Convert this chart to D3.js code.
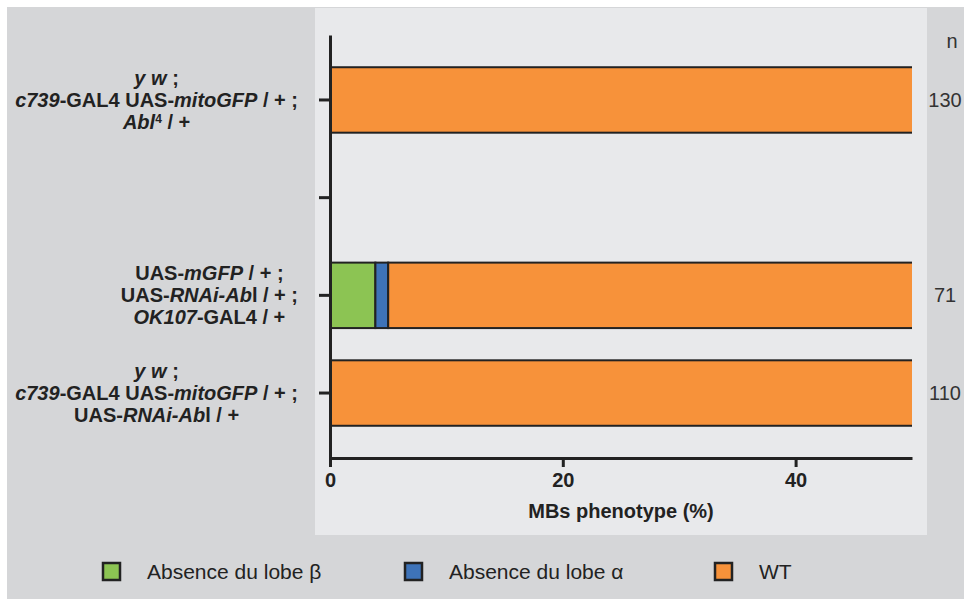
<!DOCTYPE html>
<html>
<head>
<meta charset="utf-8">
<script src="https://cdn.jsdelivr.net/npm/d3@7"></script>
<style>
  html, body { margin: 0; padding: 0; background: #ffffff; }
  svg { display: block; }
  text { font-family: "Liberation Sans", Arial, Helvetica, sans-serif; }
</style>
</head>
<body>
<svg id="chart" width="964" height="599"></svg>
<script>
// ---------- data ----------
const categories = ["abl4", "blank", "ok107", "c739rnai"];
// label lines: each segment [text, style] where style: "b" bold upright, "i" bold italic, "s" superscript
const labelLines = [
  [ [["y w", "i"], [" ;", "b"]],
    [["c739", "i"], ["-GAL4 UAS-", "b"], ["mitoGFP", "i"], [" / + ;", "b"]],
    [["Abl", "i"], ["4", "s"], [" / +", "b"]] ],
  [],
  [ [["UAS-", "b"], ["mGFP", "i"], [" / + ;", "b"]],
    [["UAS-", "b"], ["RNAi-Ab", "i"], ["l / + ;", "b"]],
    [["OK107", "i"], ["-GAL4 / +", "b"]] ],
  [ [["y w", "i"], [" ;", "b"]],
    [["c739", "i"], ["-GAL4 UAS-", "b"], ["mitoGFP", "i"], [" / + ;", "b"]],
    [["UAS-", "b"], ["RNAi-Ab", "i"], ["l / +", "b"]] ]
];
const seriesNames = ["Absence du lobe β", "Absence du lobe α", "WT"];
const seriesKeys = ["beta", "alpha", "wt"];
const absenceBeta  = [0, null, 3.9, 0];
const absenceAlpha = [0, null, 1.1, 0];
const wildType     = [100, null, 95, 100];
const nValues = ["130", "", "71", "110"];
const xTicks = [0, 20, 40];
const xDomain = [0, 50];
const xTitle = "MBs phenotype (%)";
const colors = ["#8cc453", "#3e73b8", "#f7923a"];

// ---------- build ----------
const svg = d3.select("#chart");

svg.append("rect").attr("x", 7).attr("y", 7).attr("width", 957).attr("height", 592).attr("fill", "#d5d6d8");
svg.append("rect").attr("x", 315).attr("y", 8).attr("width", 612).attr("height", 527).attr("fill", "#e8e9eb");

const x = d3.scaleLinear().domain(xDomain).range([330, 912]);
const y = d3.scaleBand().domain(categories).range([35, 458]).paddingInner(0.33).paddingOuter(0.33);

const rows = categories.map((c, i) => ({
  cat: c,
  beta: absenceBeta[i] ?? 0,
  alpha: absenceAlpha[i] ?? 0,
  wt: wildType[i] ?? 0,
  has: wildType[i] !== null
}));
const stack = d3.stack().keys(seriesKeys)(rows.filter(r => r.has));

svg.append("defs").append("clipPath").attr("id", "plotclip")
  .append("rect").attr("x", x(xDomain[0])).attr("y", 0).attr("width", x(xDomain[1]) - x(xDomain[0])).attr("height", 599);

const barsG = svg.append("g").attr("clip-path", "url(#plotclip)");
stack.forEach((layer, li) => {
  barsG.selectAll(null)
    .data(layer.filter(d => d[1] - d[0] > 0))
    .join("rect")
    .attr("x", d => x(d[0]))
    .attr("y", d => y(d.data.cat))
    .attr("width", d => x(d[1]) - x(d[0]))
    .attr("height", y.bandwidth())
    .attr("fill", colors[li])
    .attr("stroke", "#222")
    .attr("stroke-width", 2);
});

// axes
const yAxis = svg.append("g").attr("transform", "translate(330,0)")
  .call(d3.axisLeft(y).tickSize(11).tickSizeOuter(0).tickFormat(""));
const xAxis = svg.append("g").attr("transform", "translate(0,458)")
  .call(d3.axisBottom(x).tickValues(xTicks).tickSize(9).tickSizeOuter(0).tickPadding(6));
[yAxis, xAxis].forEach(g => {
  g.select(".domain").attr("stroke", "#222").attr("stroke-width", 3);
  g.selectAll(".tick line").attr("stroke", "#222").attr("stroke-width", 3);
});
xAxis.selectAll(".tick text").attr("font-size", 20).attr("font-weight", "bold").attr("fill", "#222")
  .attr("font-family", "'Liberation Sans', Arial, sans-serif");

svg.append("text").attr("x", (x(xDomain[0]) + x(xDomain[1])) / 2).attr("y", 518)
  .attr("text-anchor", "middle").attr("font-size", 20).attr("font-weight", "bold").attr("fill", "#222")
  .text(xTitle);

// category labels (multi-line, centred lines, block right-aligned)
const labelRight = 298, lineGap = 22;
categories.forEach((c, i) => {
  const lines = labelLines[i];
  if (!lines.length) return;
  const cy = y(c) + y.bandwidth() / 2;
  const g = svg.append("g");
  const texts = lines.map((segs, li) => {
    const t = g.append("text")
      .attr("y", cy + 7 + (li - (lines.length - 1) / 2) * lineGap)
      .attr("text-anchor", "middle")
      .attr("font-size", 20).attr("font-weight", "bold").attr("fill", "#222");
    segs.forEach(([s, st], k) => {
      const ts = t.append("tspan").text(s);
      if (st === "i") ts.attr("font-style", "italic");
      if (st === "s") ts.attr("font-size", 12).attr("dy", -6);
      if (k > 0 && segs[k - 1][1] === "s") ts.attr("dy", 6);
    });
    return t;
  });
  const maxW = d3.max(texts, t => t.node().getComputedTextLength());
  texts.forEach(t => t.attr("x", labelRight - maxW / 2));
});

// n column
svg.append("text").attr("x", 952).attr("y", 48).attr("text-anchor", "middle")
  .attr("font-size", 20).attr("fill", "#333").text("n");
categories.forEach((c, i) => {
  if (!nValues[i]) return;
  svg.append("text").attr("x", 945).attr("y", y(c) + y.bandwidth() / 2 + 7)
    .attr("text-anchor", "middle").attr("font-size", 20).attr("fill", "#333").text(nValues[i]);
});

// legend
const legendX = [103, 405, 715];
seriesNames.forEach((name, i) => {
  svg.append("rect").attr("x", legendX[i]).attr("y", 563).attr("width", 17).attr("height", 17)
    .attr("fill", colors[i]).attr("stroke", "#222").attr("stroke-width", 2.5);
  svg.append("text").attr("x", legendX[i] + 44).attr("y", 579)
    .attr("font-size", 21).attr("fill", "#222").text(name);
});
</script>
</body>
</html>
